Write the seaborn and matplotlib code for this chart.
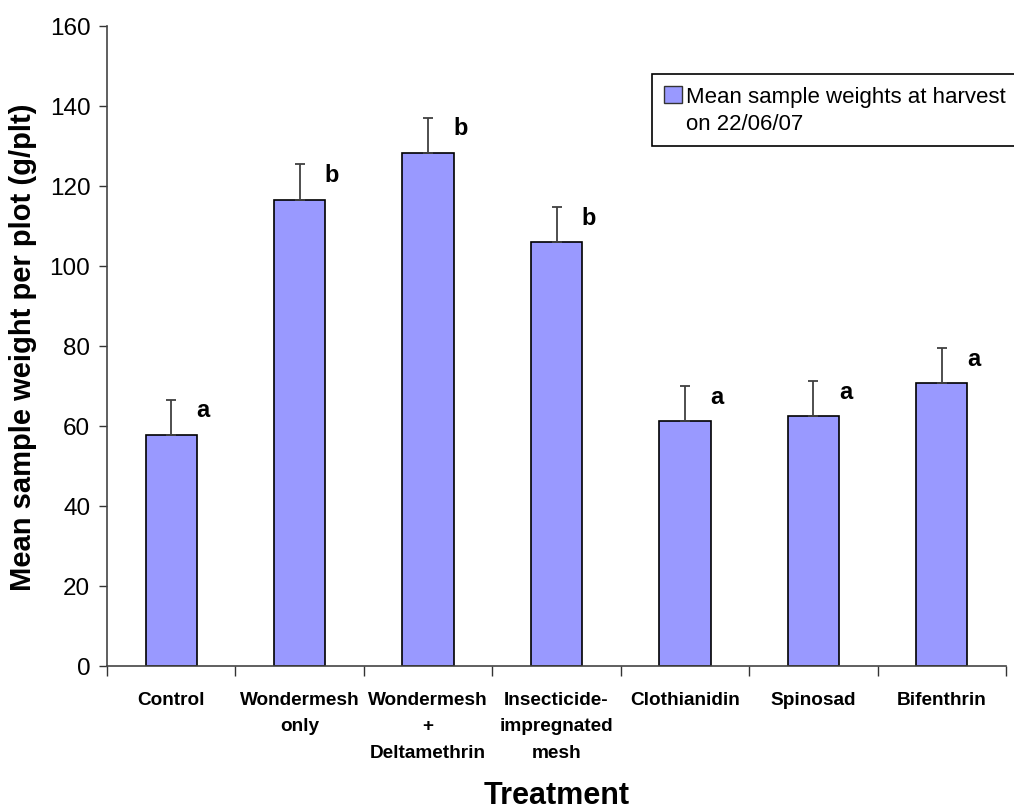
import matplotlib
matplotlib.use("Agg")
import matplotlib.pyplot as plt
import numpy as np
import pandas as pd
import seaborn as sns
from matplotlib.patches import Patch
from matplotlib.ticker import FixedLocator

# ---------------------------------------------------------------------------
# Data
# ---------------------------------------------------------------------------
treatments = [
    "Control",
    "Wondermesh\nonly",
    "Wondermesh\n+\nDeltamethrin",
    "Insecticide-\nimpregnated\nmesh",
    "Clothianidin",
    "Spinosad",
    "Bifenthrin",
]
mean_weight = [57.8, 116.6, 128.3, 106.0, 61.2, 62.4, 70.7]
std_error = [8.8, 8.9, 8.8, 8.8, 8.7, 8.8, 8.7]
groups = ["a", "b", "b", "b", "a", "a", "a"]
legend_lines = ["Mean sample weights at harvest", "on 22/06/07"]

BAR_COLOR = "#9999FF"

sns.set_theme(style="white")
plt.rcParams.update({
    "font.family": ["Liberation Sans", "DejaVu Sans"],
    "text.color": "black",
    "axes.labelcolor": "black",
    "xtick.color": "black",
    "ytick.color": "black",
})

df = pd.DataFrame({"treatment": treatments, "weight": mean_weight})

fig = plt.figure(figsize=(10.14, 8.12), dpi=100)
ax = fig.add_axes([107 / 1014, 1 - 667 / 812, 899 / 1014, 640 / 812])

sns.barplot(
    data=df, x="treatment", y="weight", color=BAR_COLOR, saturation=1,
    edgecolor="black", linewidth=1.2, width=0.4, errorbar=None, ax=ax,
)

x = np.arange(len(treatments))
ax.errorbar(
    x, mean_weight, yerr=[np.zeros(len(x)), std_error], fmt="none",
    ecolor="#404040", elinewidth=1.3, capsize=3.8, capthick=1.3, zorder=3,
)

# significance letters to the right of each error bar
for xi, m, e, g in zip(x, mean_weight, std_error, groups):
    ax.text(xi + 0.25, m + e - 4.2, g, ha="center", va="baseline",
            fontsize=17, fontweight="bold")

# axes styling
ax.set_xlim(-0.5, len(treatments) - 0.5)
ax.set_ylim(0, 160)
ax.set_yticks(np.arange(0, 161, 20))
ax.tick_params(axis="y", which="major", direction="out", length=6, width=1,
               color="#333333", labelsize=17.5, pad=6, left=True)
ax.set_xticks(x)
ax.set_xticklabels(treatments, fontsize=13.7, fontweight="bold",
                   linespacing=1.72, va="top")
ax.tick_params(axis="x", which="major", length=0, pad=18)
ax.xaxis.set_minor_locator(FixedLocator(np.arange(-0.5, len(treatments), 1.0)))
ax.tick_params(axis="x", which="minor", direction="out", length=7, width=1,
               color="#333333", bottom=True)

for side in ["top", "right"]:
    ax.spines[side].set_visible(False)
for side in ["left", "bottom"]:
    ax.spines[side].set_color("#444444")
    ax.spines[side].set_linewidth(1.2)

ax.set_xlabel("Treatment", fontsize=22, fontweight="bold", labelpad=14)
ax.set_ylabel("Mean sample weight per plot (g/plt)", fontsize=21,
              fontweight="bold", labelpad=9)

# legend: bar swatch on the first line, blank handle on the second
handles = [Patch(facecolor=BAR_COLOR, edgecolor="#333333", linewidth=1),
           Patch(facecolor="none", edgecolor="none")]
leg = fig.legend(
    handles, legend_lines, loc="upper left",
    bbox_to_anchor=(652 / 1014, 1 - 75 / 812),
    prop={"size": 16}, frameon=True, fancybox=False,
    edgecolor="black", framealpha=1, handlelength=0.8, handleheight=0.8,
    handletextpad=0.2, labelspacing=0.22, borderpad=0.55, borderaxespad=0,
)
leg.get_frame().set_linewidth(1.2)

fig.savefig("out.png", dpi=100)
plt.close(fig)
